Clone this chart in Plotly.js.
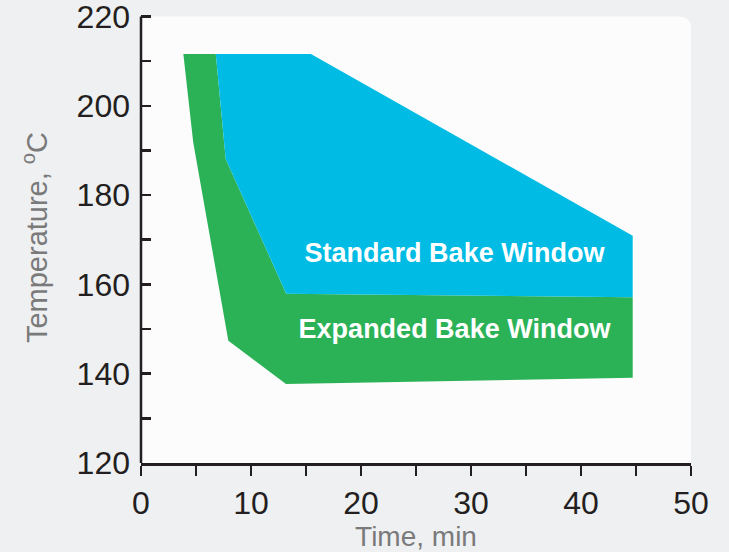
<!DOCTYPE html>
<html>
<head>
<meta charset="utf-8">
<script src="https://cdn.plot.ly/plotly-3.0.1.min.js"></script>
<style>
html,body{margin:0;padding:0;background:#eff0f2;}
#chart{width:729px;height:552px;}
</style>
</head>
<body>
<div id="chart"></div>
<script>
// Expanded bake window (outer green region), time in min, temperature in °C
const expandedTime = [3.85, 4.75, 7.94, 13.18, 44.7, 44.7, 13.2, 7.7, 6.8];
const expandedTemp = [211.6, 191.8, 147.4, 137.7, 139.1, 157.1, 157.9, 188.1, 211.6];
// Standard bake window (blue region)
const standardTime = [6.8, 15.45, 44.7, 44.7, 13.2, 7.7];
const standardTemp = [211.6, 211.6, 170.9, 157.1, 157.9, 188.1];
// Labels
const labelNames = ["Standard Bake Window", "Expanded Bake Window"];
const labelTime = [28.5, 28.5];
const labelTemp = [166.6, 149.4];
// Axis tick values
const yTicks = [120, 140, 160, 180, 200, 220];
const yMinor = [130, 150, 170, 190, 210];

const fontFam = "Liberation Sans, Arial, sans-serif";

const traces = [
  {x: expandedTime, y: expandedTemp, type: "scatter", mode: "lines", fill: "toself",
   fillcolor: "#2bb257", line: {width: 0, color: "#2bb257"}, hoverinfo: "skip", showlegend: false},
  {x: standardTime, y: standardTemp, type: "scatter", mode: "lines", fill: "toself",
   fillcolor: "#00bce4", line: {width: 0, color: "#00bce4"}, hoverinfo: "skip", showlegend: false},
  {x: labelTime, y: labelTemp, type: "scatter", mode: "text", text: labelNames.map(t => "<b>" + t + "</b>"),
   textfont: {family: fontFam, size: 27, color: "#ffffff"}, hoverinfo: "skip", showlegend: false}
];

const yTop = 220, yBot = 120;
const rx = 12 / 550, ryData = 12 / 4.465;
const layout = {
  width: 729, height: 552,
  margin: {l: 141, r: 38, t: 12, b: 89},
  paper_bgcolor: "#eff0f2",
  plot_bgcolor: "rgba(0,0,0,0)",
  showlegend: false,
  font: {family: fontFam, color: "#231f20"},
  shapes: [
    {
      type: "path", xref: "paper", yref: "y", layer: "below",
      path: `M 0 ${yBot} L 1 ${yBot} L 1 ${yTop - ryData} Q 1 ${yTop} ${1 - rx} ${yTop} L 0 ${yTop} Z`,
      fillcolor: "#fcfcfc", line: {width: 0}
    },
    {
      type: "line", xref: "paper", yref: "y", layer: "above",
      x0: 0, x1: 0, y0: yBot, y1: yTop,
      line: {color: "#231f20", width: 2.5}
    }
  ],
  xaxis: {
    range: [0, 50], dtick: 10, tick0: 0,
    ticks: "outside", ticklen: 10, tickwidth: 2.5, tickcolor: "#231f20",
    minor: {dtick: 5, ticks: "outside", ticklen: 10, tickwidth: 2.5, tickcolor: "#231f20", showgrid: false},
    showline: true, linecolor: "#231f20", linewidth: 2.5,
    showgrid: false, zeroline: false,
    ticklabeloverflow: "allow",
    tickfont: {size: 32, color: "#231f20"},
    title: {text: "Time, min", font: {size: 28, color: "#7a7a7a"}, standoff: 4}
  },
  yaxis: {
    range: [120, 221], tickvals: yTicks,
    ticks: "inside", ticklen: 10, tickwidth: 2.5, tickcolor: "#231f20",
    minor: {tickvals: yMinor, ticks: "inside", ticklen: 10, tickwidth: 2.5, tickcolor: "#231f20", showgrid: false},
    showline: false,
    showgrid: false, zeroline: false,
    ticklabelstandoff: 10,
    ticklabeloverflow: "allow",
    tickfont: {size: 32, color: "#231f20"},
    title: {text: "Temperature, <sup>o</sup>C", font: {size: 29, color: "#7a7a7a"}, standoff: 20}
  }
};

Plotly.newPlot("chart", traces, layout, {displayModeBar: false, staticPlot: true});
</script>
</body>
</html>
